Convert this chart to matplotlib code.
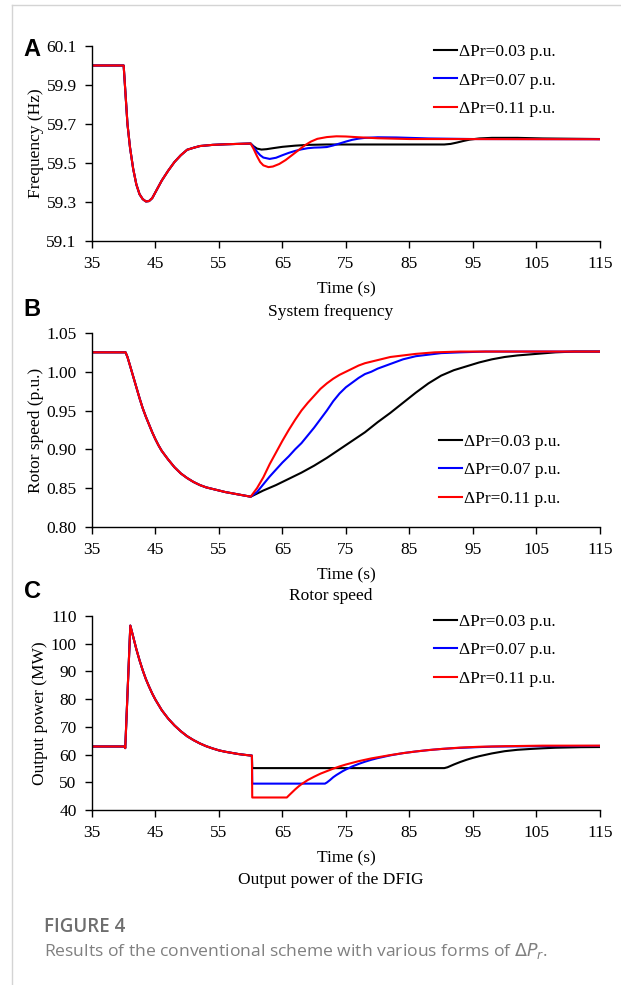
import numpy as np
import matplotlib
matplotlib.use("Agg")
from matplotlib import pyplot as plt
from matplotlib.lines import Line2D

# ---- data ----
labels = ['\u0394Pr=0.03 p.u.', '\u0394Pr=0.07 p.u.', '\u0394Pr=0.11 p.u.']
colors = ['black', '#0000ff', '#ff0000']
xticks = [35, 45, 55, 65, 75, 85, 95, 105, 115]

# (A) system frequency, part shared by all cases (35-60 s)
fa_t0 = [35, 40.0, 40.3, 40.6, 41.0, 41.5, 42.0, 42.5, 43.0, 43.5, 44.0, 44.5, 45.0,
         46, 47, 48, 49, 50, 51, 52, 54, 56, 58, 60]
fa_y0 = [60.0, 60.0, 59.85, 59.70, 59.58, 59.47, 59.39, 59.34, 59.315, 59.303, 59.305,
         59.32, 59.35, 59.41, 59.46, 59.505, 59.54, 59.568, 59.578, 59.587, 59.593,
         59.596, 59.598, 59.60]
fa_t_black = [60.5, 61, 61.7, 62.5, 63.5, 65, 67, 69, 72, 90.5, 91.5, 92.5, 93.5, 94.5,
              96, 98, 102, 106, 115]
fa_black = [59.585, 59.574, 59.569, 59.571, 59.576, 59.583, 59.589, 59.593, 59.595,
            59.595, 59.598, 59.605, 59.613, 59.62, 59.626, 59.629, 59.629, 59.626, 59.623]
fa_t_blue = [60.5, 61, 61.5, 62, 63, 64, 65, 66, 67, 68, 69, 70, 71, 72, 73, 74, 75, 76,
             77, 78, 80, 83, 88, 95, 115]
fa_blue = [59.58, 59.558, 59.54, 59.528, 59.521, 59.527, 59.54, 59.552, 59.562, 59.57,
           59.576, 59.579, 59.58, 59.582, 59.59, 59.60, 59.61, 59.619, 59.625, 59.629,
           59.632, 59.631, 59.626, 59.623, 59.622]
fa_t_red = [60.5, 61, 61.5, 62, 62.8, 63.5, 64.5, 65.5, 66.5, 67.5, 68.5, 69.5, 70.5, 72,
            73.5, 75, 77, 80, 85, 115]
fa_red = [59.57, 59.535, 59.505, 59.488, 59.479, 59.482, 59.495, 59.515, 59.54, 59.565,
          59.59, 59.61, 59.624, 59.633, 59.637, 59.636, 59.632, 59.627, 59.623, 59.622]

# (B) rotor speed
rs_t0 = [35, 40.3, 40.6, 41, 41.5, 42, 42.5, 43, 43.5, 44, 44.5, 45, 45.5, 46, 47, 48,
         49, 50, 51, 52, 53, 54, 55, 56, 57, 58, 59, 60]
rs_y0 = [1.025, 1.025, 1.019, 1.008, 0.994, 0.980, 0.966, 0.953, 0.942, 0.932, 0.922,
         0.913, 0.905, 0.898, 0.887, 0.877, 0.869, 0.863, 0.858, 0.854, 0.851, 0.849,
         0.847, 0.845, 0.8435, 0.842, 0.8405, 0.839]
rs_t_black = [62, 64, 66, 68, 70, 72, 74, 76, 78, 80, 82, 84, 86, 88, 90, 92, 94, 96, 98,
              100, 102, 105, 108, 111, 115]
rs_black = [0.847, 0.854, 0.862, 0.870, 0.879, 0.889, 0.900, 0.911, 0.922, 0.935, 0.947,
            0.960, 0.973, 0.985, 0.995, 1.002, 1.007, 1.012, 1.016, 1.019, 1.021, 1.023,
            1.025, 1.026, 1.026]
rs_t_blue = [61, 62, 63, 64, 65, 66, 67, 68, 69, 70, 71, 72, 73, 74, 75, 76, 77, 78, 79,
             80, 82, 84, 86, 88, 90, 93, 97, 115]
rs_blue = [0.845, 0.855, 0.865, 0.874, 0.883, 0.891, 0.900, 0.908, 0.918, 0.928, 0.939,
           0.950, 0.962, 0.972, 0.980, 0.986, 0.992, 0.997, 1.000, 1.004, 1.010, 1.016,
           1.020, 1.022, 1.024, 1.025, 1.026, 1.026]
rs_t_red = [61, 62, 63, 64, 65, 66, 67, 68, 69, 70, 71, 72, 73, 74, 75, 76, 77, 78, 80,
            82, 84, 86, 89, 93, 115]
rs_red = [0.850, 0.864, 0.881, 0.896, 0.911, 0.925, 0.938, 0.950, 0.960, 0.969, 0.978,
          0.985, 0.991, 0.996, 1.000, 1.004, 1.008, 1.011, 1.015, 1.019, 1.021, 1.023,
          1.025, 1.026, 1.026]

# (C) output power of the DFIG
op_t0 = [35, 40.15, 40.25, 41.05, 41.5, 42, 42.5, 43, 43.5, 44, 44.5, 45, 46, 47, 48,
         49, 50, 51, 52, 53, 54, 55, 56, 57, 58, 59, 60.2]
op_y0 = [62.9, 62.9, 62.3, 106.5, 102.5, 98.0, 94.0, 90.4, 87.2, 84.5, 82.0, 79.8, 76.0,
         73.0, 70.5, 68.4, 66.6, 65.2, 64.0, 63.0, 62.2, 61.5, 61.0, 60.6, 60.2, 59.9,
         59.6]
op_t_black = [60.25, 90.5, 91, 91.5, 92, 93, 94, 95, 96, 97, 98, 99, 100, 102, 104, 106,
              108, 110, 112, 115]
op_black = [55.1, 55.1, 55.4, 55.9, 56.4, 57.3, 58.1, 58.8, 59.4, 59.9, 60.4, 60.8, 61.2,
            61.7, 62.0, 62.25, 62.45, 62.55, 62.65, 62.7]
op_t_blue = [60.25, 71.7, 72, 72.5, 73, 73.5, 74, 74.5, 75, 76, 77, 78, 79, 80, 81, 82,
             83, 84, 86, 88, 90, 92, 95, 98, 104, 115]
op_blue = [49.5, 49.5, 49.9, 50.8, 51.8, 52.6, 53.3, 54.0, 54.6, 55.7, 56.6, 57.4, 58.1,
           58.7, 59.2, 59.7, 60.1, 60.5, 61.1, 61.6, 62.0, 62.3, 62.6, 62.85, 63.0, 63.1]
op_t_red = [60.25, 65.7, 66, 66.5, 67, 67.5, 68, 69, 70, 71, 72, 73, 74, 75, 76, 77, 78,
            79, 80, 82, 84, 86, 88, 90, 93, 96, 100, 106, 115]
op_red = [44.5, 44.5, 45.2, 46.3, 47.4, 48.4, 49.3, 50.8, 52.0, 53.1, 54.0, 54.9, 55.7,
          56.4, 57.0, 57.6, 58.1, 58.6, 59.0, 59.8, 60.5, 61.1, 61.6, 62.0, 62.5, 62.8,
          63.0, 63.2, 63.2]

serif = 'Liberation Serif'
fs = 12.5

fig = plt.figure(figsize=(6.21, 9.85), dpi=100)

def panel(rect, t0, y0, tails, ylim, yticks, yfmt, ylabel, title, letter, leg_xy,
          title_y, letter_y):
    ax = fig.add_axes(rect)
    for (tt, yy), c, lab in zip(tails, colors, labels):
        ax.plot(list(t0) + list(tt), list(y0) + list(yy), color=c, lw=1.5, label=lab)
    ax.set_xlim(35, 115)
    ax.set_ylim(*ylim)
    ax.set_xticks(xticks)
    ax.set_yticks(yticks)
    ax.set_yticklabels([yfmt.format(v) for v in yticks])
    for s in ('top', 'right'):
        ax.spines[s].set_visible(False)
    for s in ('left', 'bottom'):
        ax.spines[s].set_linewidth(1.0)
    ax.tick_params(direction='out', length=5, width=1.0, labelsize=fs)
    ax.tick_params(axis='x', pad=5.5)
    ax.tick_params(axis='y', pad=6)
    for lab in ax.get_xticklabels() + ax.get_yticklabels():
        lab.set_family(serif)
    ax.set_xlabel('Time (s)', family=serif, fontsize=fs, labelpad=7)
    ax.set_ylabel(ylabel, family=serif, fontsize=fs, labelpad=2)
    ax.legend(loc='upper left', bbox_to_anchor=leg_xy, frameon=False,
              prop={'family': serif, 'size': fs}, handlelength=1.35,
              handletextpad=0.1, borderpad=0, borderaxespad=0, labelspacing=0.7)
    fig.text(0.533, title_y, title, family=serif, fontsize=fs, ha='center', va='center')
    fig.text(0.038, letter_y, letter, family='Liberation Sans', weight='bold',
             fontsize=17, ha='left', va='center')
    return ax

panel([0.148, 0.7553, 0.818, 0.198], fa_t0, fa_y0,
      [(fa_t_black, fa_black), (fa_t_blue, fa_blue), (fa_t_red, fa_red)],
      (59.1, 60.1), [59.1, 59.3, 59.5, 59.7, 59.9, 60.1], '{:.1f}',
      'Frequency (Hz)', 'System frequency', 'A', (0.673, 1.01),
      1 - 312 / 985, 1 - 50 / 985)

panel([0.148, 0.465, 0.818, 0.197], rs_t0, rs_y0,
      [(rs_t_black, rs_black), (rs_t_blue, rs_blue), (rs_t_red, rs_red)],
      (0.80, 1.05), [0.80, 0.85, 0.90, 0.95, 1.00, 1.05], '{:.2f}',
      'Rotor speed (p.u.)', 'Rotor speed', 'B', (0.683, 0.479),
      1 - 596 / 985, 1 - 309 / 985)

panel([0.148, 0.1777, 0.818, 0.197], op_t0, op_y0,
      [(op_t_black, op_black), (op_t_blue, op_blue), (op_t_red, op_red)],
      (40, 110), [40, 50, 60, 70, 80, 90, 100, 110], '{:.0f}',
      'Output power (MW)', 'Output power of the DFIG', 'C', (0.673, 1.01),
      1 - 880 / 985, 1 - 592 / 985)

# frame lines of the article box
fig.add_artist(Line2D([12 / 621, 12 / 621], [0, 1 - 5 / 985], color='#d4d4d4', lw=1.0))
fig.add_artist(Line2D([12 / 621, 1], [1 - 5 / 985, 1 - 5 / 985], color='#d4d4d4', lw=1.0))

fig.text(44 / 621, 1 - 927 / 985, 'FIGURE 4', family='Open Sans', weight='semibold',
         fontsize=13.5, color='#6e6e6e', ha='left', va='center')
fig.text(44 / 621, 1 - 951 / 985,
         r'Results of the conventional scheme with various forms of $\Delta P_r$.',
         family='Open Sans', fontsize=12.6, color='#808080', ha='left', va='center')

plt.savefig('out.png', dpi=100)
